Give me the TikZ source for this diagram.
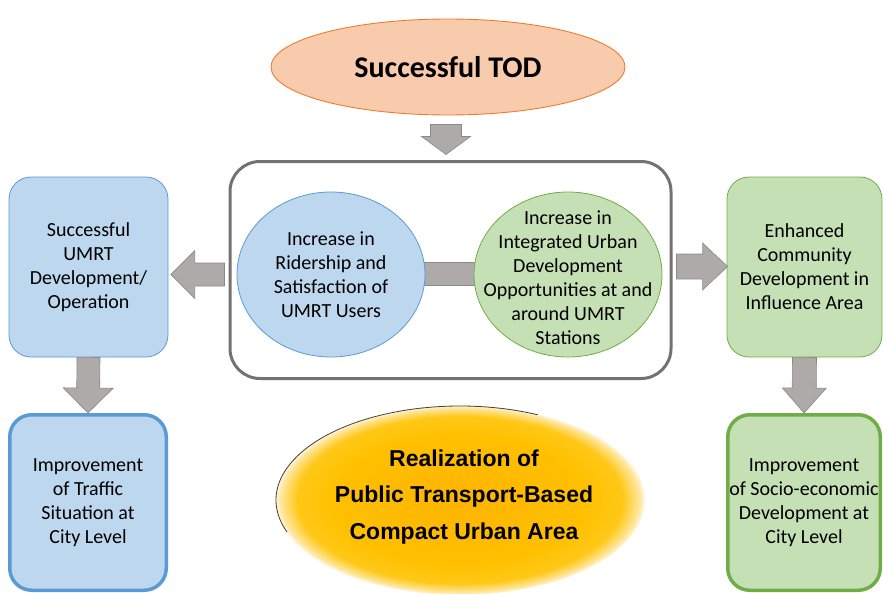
\documentclass[tikz,border=0pt]{standalone}
\usepackage{fontspec}
\setmainfont{Carlito}
\newfontfamily\goalfont{Liberation Sans}
\usetikzlibrary{shapes.geometric,calc,backgrounds}

\definecolor{bluefill}{HTML}{BDD7EE}
\definecolor{blueline}{HTML}{5B9BD5}
\definecolor{greenfill}{HTML}{C5E0B4}
\definecolor{greenline}{HTML}{70AD47}
\definecolor{peachfill}{HTML}{F8CBAD}
\definecolor{peachline}{HTML}{ED7D31}
\definecolor{arrowfill}{HTML}{AEAAAA}
\definecolor{arrowline}{HTML}{8C8888}
\definecolor{frameline}{HTML}{767171}
\definecolor{glowA}{HTML}{FFB400}
\definecolor{glowB}{HTML}{FFC000}
\definecolor{glowC}{HTML}{FFC818}
\definecolor{glowD}{HTML}{FFE7A0}

% radial glow for the goal ellipse
\pgfdeclareradialshading{goalglow}{\pgfpoint{0bp}{0bp}}{%
  color(0bp)=(glowA); color(17bp)=(glowB); color(22bp)=(glowC);
  color(24.3bp)=(glowD); color(25.2bp)=(white); color(50bp)=(white)}

\tikzset{
  boxtext/.style={font=\fontsize{20}{24}\selectfont, align=center, text=black, inner sep=0pt},
  bluebox/.style={boxtext, rectangle, rounded corners=22pt, fill=bluefill, draw=blueline},
  greenbox/.style={boxtext, rectangle, rounded corners=22pt, fill=greenfill, draw=greenline},
  bubble/.style={ellipse, inner sep=0pt, line width=0.8pt, minimum width=188pt, minimum height=165pt},
  blockarr/.style={fill=arrowfill, draw=arrowline, line width=0.6pt, line join=miter},
}

% block arrow: #1 start, #2 tip, #3 half shaft width, #4 half head width, #5 head length
\newcommand{\blockarrow}[5]{%
  \coordinate (ba-s) at (#1);
  \coordinate (ba-t) at (#2);
  \coordinate (ba-h) at ($(ba-t)!#5!(ba-s)$);
  \path[blockarr]
    ($(ba-s)!#3!90:(ba-t)$) -- ($(ba-h)!#3!90:(ba-t)$) --
    ($(ba-h)!#4!90:(ba-t)$) -- (ba-t) --
    ($(ba-h)!#4!-90:(ba-t)$) -- ($(ba-h)!#3!-90:(ba-t)$) --
    ($(ba-s)!#3!-90:(ba-t)$) -- cycle;
}

\begin{document}
\begin{tikzpicture}[x=1pt,y=-1pt]
\useasboundingbox (0,0) rectangle (883,594);

% top goal
\node[ellipse, fill=peachfill, draw=peachline, line width=0.9pt,
      minimum width=354pt, minimum height=96pt, inner sep=0pt,
      font=\bfseries\fontsize{30}{36}\selectfont] (tod) at (448,67) {Successful TOD};

% central frame with the two drivers
\node[rectangle, rounded corners=30pt, draw=frameline, line width=3pt,
      minimum width=441pt, minimum height=217pt] (frame) at (450.5,270) {};

\node[bubble, fill=bluefill, draw=blueline] (ride) at (331,274.5) {};
\node[boxtext] (ridetext) at (ride.center)
  {Increase in\\Ridership and\\Satisfaction of\\UMRT Users};

\node[bubble, fill=greenfill, draw=greenline] (urban) at (568,274.5) {};
\node[boxtext] (urbantext) at ($(urban.center)+(0,3)$)
  {Increase in\\Integrated Urban\\Development\\Opportunities at and\\around UMRT\\Stations};

\begin{scope}[on background layer]
  \path[blockarr] ($(ride.east)+(-3,-12)$) rectangle ($(urban.west)+(3,11)$);
\end{scope}

% side outcomes
\node[bluebox, line width=0.8pt, minimum width=159pt, minimum height=180pt] (umrt) at (88.5,267)
  {Successful\\UMRT\\Development/\\Operation};
\node[greenbox, line width=0.8pt, minimum width=155pt, minimum height=180pt] (comm) at (804.5,267)
  {Enhanced\\Community\\Development in\\Influence Area};

% city level outcomes
\node[bluebox, line width=3.5pt, minimum width=156.5pt, minimum height=175.5pt] (traffic) at (88,502.5)
  {Improvement\\of Traffic\\Situation at\\City Level};
\node[greenbox, line width=3.5pt, minimum width=152.5pt, minimum height=175.5pt] (socio) at (804,502.5)
  {Improvement\\of Socio-economic\\Development at\\City Level};

% overall goal
\node[ellipse, shading=goalglow, minimum width=370pt, minimum height=190pt, inner sep=0pt] (goal) at (460,500) {};
\draw[black!75, line width=0.8pt] (goal.center) ++(160:184 and 94)
  arc[start angle=160, end angle=295, x radius=184, y radius=94];
\node[align=center, inner sep=0pt, font=\goalfont\bfseries\fontsize{23}{36.5}\selectfont] (goaltext)
  at ($(goal.center)+(4,-3)$) {Realization of\\Public Transport-Based\\Compact Urban Area};

% block arrows
\blockarrow{$(tod.south)+(-2,9)$}{$(frame.north)+(-4.5,-5.5)$}{15.5pt}{24.5pt}{18pt}
\blockarrow{$(frame.west)+(-4,4.5)$}{$(umrt.east)+(2.5,7.5)$}{11.5pt}{24pt}{24pt}
\blockarrow{$(frame.east)+(4,-3.5)$}{$(comm.west)+(1,-0.5)$}{12.5pt}{23.5pt}{25pt}
\blockarrow{umrt.south}{traffic.north}{11.5pt}{25pt}{25pt}
\blockarrow{comm.south}{socio.north}{12pt}{22pt}{25pt}
\end{tikzpicture}
\end{document}
